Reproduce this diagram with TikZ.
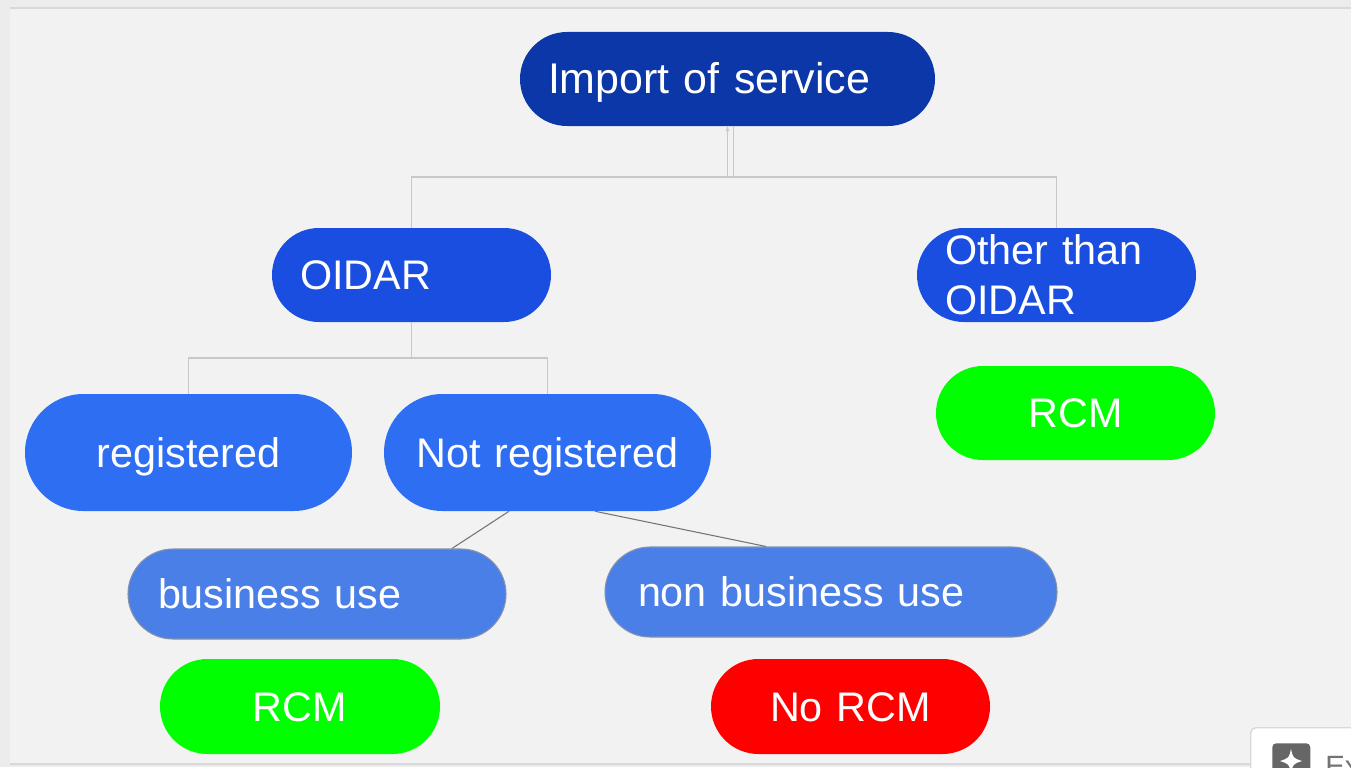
\documentclass[tikz,border=0pt]{standalone}
\usepackage{fontspec}
\setmainfont{Liberation Sans}
\usetikzlibrary{arrows.meta,calc}
\definecolor{outerbg}{HTML}{ECECEC}
\definecolor{panelbg}{HTML}{F2F2F2}
\definecolor{panelline}{HTML}{D8D8D8}
\definecolor{darkblue}{HTML}{0B37A8}
\definecolor{midblue}{HTML}{1A4EE0}
\definecolor{brightblue}{HTML}{2D6EF2}
\definecolor{softblue}{HTML}{4A7FE8}
\definecolor{softborder}{HTML}{8494AC}
\definecolor{rcmgreen}{HTML}{00FF00}
\definecolor{norcmred}{HTML}{FF0000}
\definecolor{treeline}{HTML}{C8C8C8}
\definecolor{diagline}{HTML}{747474}
\tikzset{
  pill/.style n args={4}{rectangle, rounded corners=#2/2-0.01pt,
    minimum width=#1, minimum height=#2, inner ysep=0pt, inner xsep=#3,
    text width=#1-2*#3, align=#4, text=white,
    font=\fontsize{31}{37.5}\selectfont, text height=22.3pt, text depth=0pt},
  tree/.style={draw=treeline, line width=1.3pt},
  diag/.style={draw=diagline, line width=0.8pt},
}
\begin{document}
\begin{tikzpicture}[x=0.75pt,y=-0.75pt]
\clip (0,0) rectangle (1351,767);
\fill[outerbg] (0,0) rectangle (1351,767);
\fill[panelbg] (10,8) rectangle (1351,763);
\draw[panelline, line width=1.5pt] (10,8) -- (1351,8);
\draw[panelline, line width=1.5pt] (10,764) -- (1351,764);

% nodes
\node[pill={311.25pt}{70.5pt}{21pt}{left}, fill=darkblue,
      font=\fontsize{32.2}{38}\selectfont] (imp) at (727.5,79) {Import of service};
\node[pill={209.25pt}{70.5pt}{21pt}{left}, fill=midblue] (oidar) at (411.5,275) {OIDAR};
\node[pill={209.25pt}{70.5pt}{21pt}{left}, fill=midblue, text depth=37.5pt] (other) at (1056.5,275) {Other than\\OIDAR};
\node[pill={209.25pt}{70.5pt}{10pt}{center}, fill=rcmgreen] (rcmA) at (1075.5,413) {RCM};
\node[pill={245.25pt}{87.75pt}{10pt}{center}, fill=brightblue] (reg) at (188.5,452.5) {registered};
\node[pill={245.25pt}{87.75pt}{10pt}{center}, fill=brightblue] (notreg) at (547.5,452.5) {Not registered};
\node[pill={283.5pt}{67.5pt}{22.5pt}{left}, fill=softblue, draw=softborder, line width=0.8pt] (bus) at (317,594) {business use};
\node[pill={339pt}{67.5pt}{24.75pt}{left}, fill=softblue, draw=softborder, line width=0.8pt] (nonbus) at (831,592) {non business use};
\node[pill={210pt}{71.25pt}{10pt}{center}, fill=rcmgreen] (rcmB) at (300,706.5) {RCM};
\node[pill={209.25pt}{71.25pt}{10pt}{center}, fill=norcmred] (norcm) at (850.5,706.5) {No RCM};

% connectors
\coordinate (hub) at (731,177);
\draw[tree, -{Stealth[length=4pt,width=3pt]}] (imp.south |- hub) -- (imp.south);
\draw[tree] ($(imp.south)+(6,0)$) -- ($(imp.south |- hub)+(6,0)$);
\draw[tree] (oidar.north) -- (oidar.north |- hub) -- (other.north |- hub) -- (other.north);
\coordinate (hub2) at (411.5,358);
\draw[tree] (oidar.south) -- (hub2);
\draw[tree] (reg.north) -- (reg.north |- hub2) -- (notreg.north |- hub2) -- (notreg.north);
\draw[diag] ($(notreg.south)+(-38.5,0)$) -- ($(bus.north)+(135,0)$);
\draw[diag] ($(notreg.south)+(47.5,0)$) -- ($(nonbus.north)+(-65,0)$);

% corner popup (cut off by the frame)
\node[draw=panelline, fill=white, rounded corners=4pt, line width=1pt,
      minimum width=90pt, minimum height=50pt, anchor=north west, inner sep=0pt] (popup) at (1250,727) {};
\node[fill=black!60, rounded corners=3pt, minimum width=28.5pt, minimum height=28.5pt,
      anchor=north west, inner sep=0pt] (icon) at (1272,743) {};
\fill[white] (1291,749) .. controls (1293,758) .. (1302,761)
             .. controls (1293,764) .. (1291,773)
             .. controls (1289,764) .. (1280,761)
             .. controls (1289,758) .. (1291,749) -- cycle;
\node[anchor=base west, inner sep=0pt, text=black!55, font=\fontsize{22}{26}\selectfont] (ex) at (1325,776) {Ex};
\end{tikzpicture}
\end{document}
